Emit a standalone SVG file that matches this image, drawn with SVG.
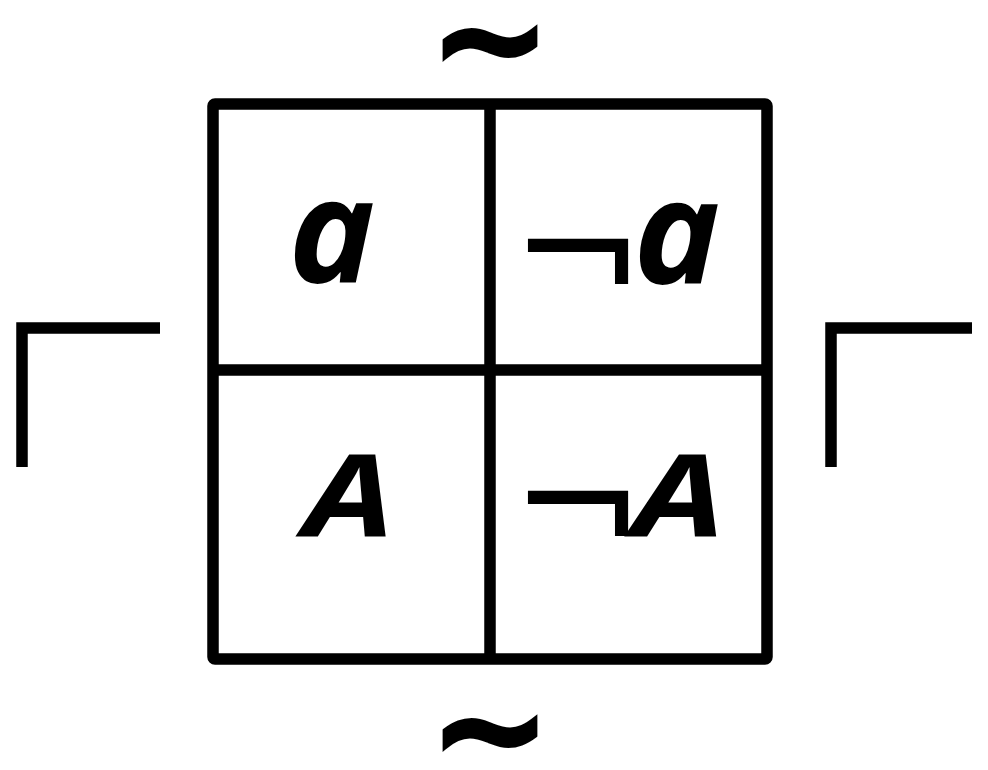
<svg xmlns="http://www.w3.org/2000/svg" width="988" height="770" viewBox="0 0 988 770">
<style>
.ln{fill:none;stroke:#000;stroke-width:11.5;stroke-linejoin:miter;stroke-linecap:butt}
.t{font-family:"Open Sans","Noto Sans",sans-serif;font-weight:bold;font-style:italic;fill:#000}
.neg{font-family:"DejaVu Sans",sans-serif;font-weight:normal;font-style:normal;fill:#000}
.til{font-family:"DejaVu Sans",sans-serif;font-weight:bold;fill:#000;stroke:#000;stroke-width:4}
</style>
<rect width="988" height="770" fill="#fff"/>
<g id="grid">
<rect class="ln" x="213" y="104" width="554" height="555" rx="2"/>
<line class="ln" x1="490" y1="104" x2="490" y2="659"/>
<line class="ln" x1="213" y1="370" x2="767" y2="370"/>
</g>
<g id="connectors">
<path class="ln" d="M22,467 V328 H160"/>
<path class="ln" d="M831,467 V328 H972"/>
</g>
<g id="tilde-top"><text class="til" x="490" y="88" font-size="145" text-anchor="middle">~</text></g>
<g id="tilde-bottom"><text class="til" x="490" y="778" font-size="145" text-anchor="middle">~</text></g>
<g id="cell-a"><text class="t" x="332" y="283" font-size="146" text-anchor="middle">a</text></g>
<g id="cell-not-a"><text class="t" text-anchor="middle" font-size="146"><tspan class="neg" x="578" y="306" font-size="160">¬</tspan><tspan x="677" y="284">a</tspan></text></g>
<g id="cell-A"><text class="t" transform="translate(349,537) scale(1.25,1)" font-size="115" text-anchor="middle">A</text></g>
<g id="cell-not-A"><text class="t" text-anchor="middle" font-size="115"><tspan class="neg" x="578" y="558" font-size="160">¬</tspan><tspan x="679" y="537" textLength="92" lengthAdjust="spacingAndGlyphs">A</tspan></text></g>
</svg>
